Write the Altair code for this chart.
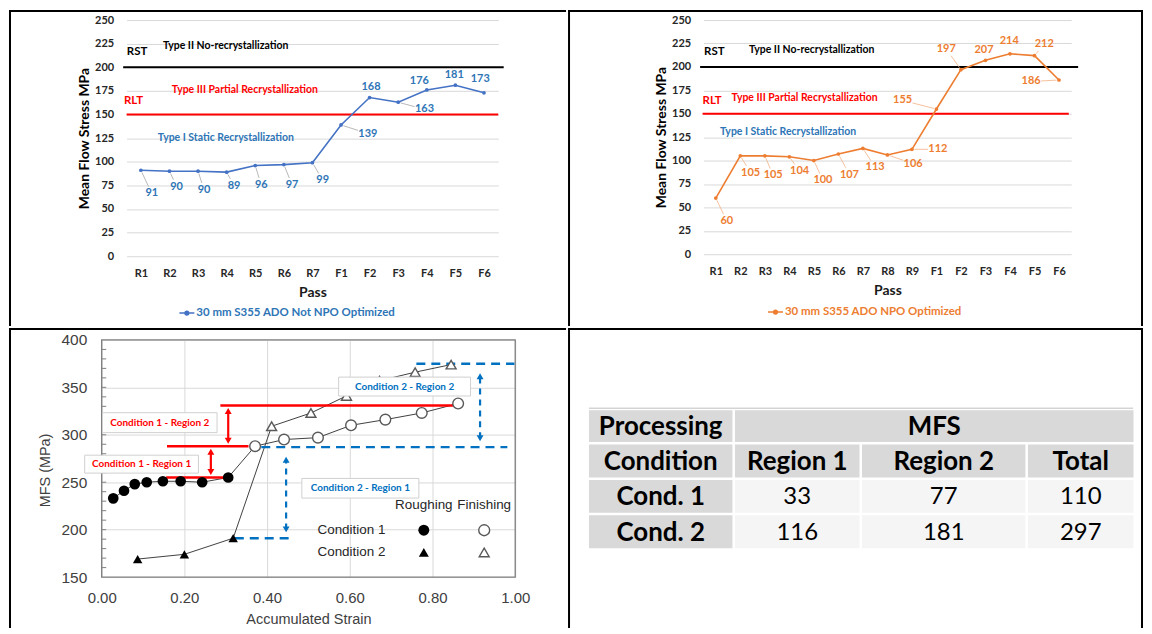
import math
import altair as alt
import pandas as pd

FONT = "Lato"
ARIAL = "Liberation Sans"

# ---------------- Panel 1: 30 mm S355 ADO, not NPO optimized ----------------
passes_1 = ["R1", "R2", "R3", "R4", "R5", "R6", "R7", "F1", "F2", "F3", "F4", "F5", "F6"]
mfs_1 = [91, 90, 90, 89, 96, 97, 99, 139, 168, 163, 176, 181, 173]
series_1 = "30 mm S355 ADO Not NPO Optimized"
label_pos_1 = [0.38, 1.25, 2.21, 3.26, 4.21, 5.29, 6.36, 7.94, 8.05, 9.92, 9.74, 10.96, 11.87]
label_mpa_1 = [66.6, 73.7, 70.2, 74.7, 75.5, 75.5, 80.3, 129.8, 178.9, 155.5, 186.0, 191.9, 187.7]

# ---------------- Panel 2: 30 mm S355 ADO, NPO optimized ----------------
passes_2 = ["R1", "R2", "R3", "R4", "R5", "R6", "R7", "R8", "R9", "F1", "F2", "F3", "F4", "F5", "F6"]
mfs_2 = [60, 105, 105, 104, 100, 107, 113, 106, 112, 155, 197, 207, 214, 212, 186]
series_2 = "30 mm S355 ADO NPO Optimized"
label_pos_2 = [0.45, 1.42, 2.34, 3.42, 4.37, 5.45, 6.50, 8.05, 9.06, 7.62, 9.40, 10.94, 11.97, 13.40, 12.86]
label_mpa_2 = [35.4, 87.0, 84.1, 88.6, 78.7, 85.1, 92.9, 96.8, 112.0, 164.2, 219.2, 217.7, 228.0, 224.5, 184.4]

# recrystallisation limits (MPa)
rst_mpa = 200
rlt_mpa = 150
zone_texts = ["RST", "Type II No-recrystallization", "RLT",
              "Type III Partial Recrystallization", "Type I Static Recrystallization"]
zone_colors = ["#000000", "#000000", "#ff0000", "#ff0000", "#2e75b6"]
zone_sizes = [11.5, 10.5, 11.5, 10.5, 10.5]
zone_pos_1 = [-0.49, 0.77, -0.59, 1.08, 0.59]
zone_mpa_1 = [216.5, 222.8, 164.2, 175.5, 125.3]
zone_pos_2 = [-0.48, 1.35, -0.54, 0.64, 0.17]
zone_mpa_2 = [215.5, 217.7, 163.1, 166.6, 130.4]

# ---------------- Panel 3: MFS vs accumulated strain ----------------
c1_rough_strain = [0.028, 0.054, 0.080, 0.109, 0.148, 0.191, 0.243, 0.306]
c1_rough_mfs = [233, 241, 248, 250, 251, 251, 250, 255]
c1_fin_strain = [0.371, 0.441, 0.523, 0.603, 0.686, 0.774, 0.862]
c1_fin_mfs = [288, 295, 297, 310, 316, 323, 333]
c2_rough_strain = [0.087, 0.200, 0.318]
c2_rough_mfs = [169, 174, 191]
c2_fin_strain = [0.411, 0.506, 0.592, 0.672, 0.758, 0.845]
c2_fin_mfs = [309, 323, 341, 357, 366, 374]

c1_level_x0 = [0.156, 0.158, 0.287]
c1_level_x1 = [0.317, 0.355, 0.850]
c1_level_y = [255, 288, 331]
c1_arrow_x = [0.264, 0.306]
c1_arrow_lo = [255, 288]
c1_arrow_hi = [288, 331]
c2_level_x0 = [0.322, 0.386, 0.761]
c2_level_x1 = [0.458, 0.981, 0.998]
c2_level_y = [191, 287, 375]
c2_arrow_x = [0.446, 0.915]
c2_arrow_lo = [191, 287]
c2_arrow_hi = [287, 375]

box_texts = ["Condition 1 - Region 2", "Condition 1 - Region 1",
             "Condition 2 - Region 2", "Condition 2 - Region 1"]
box_colors = ["#ff0000", "#ff0000", "#0070c0", "#0070c0"]
box_x0 = [0.002, -0.041, 0.573, 0.484]
box_x1 = [0.279, 0.234, 0.892, 0.767]
box_y0 = [302.3, 259.6, 340.9, 233.3]
box_y1 = [323.3, 278.5, 360.8, 254.0]

legend_cols = ["Roughing", "Finishing"]
legend_rows = ["Condition 1", "Condition 2"]
legend_col_x = [0.779, 0.925]
legend_head_y = 226
legend_row_x = 0.604
legend_row_y = [199.4, 176.0]

# ---------------- Panel 4: table ----------------
tbl_header_1 = ["Processing", "MFS"]
tbl_header_2 = ["Condition", "Region 1", "Region 2", "Total"]
conditions = ["Cond. 1", "Cond. 2"]
region_1 = [33, 116]
region_2 = [77, 181]
mfs_total = [110, 297]
col_widths = [144, 125, 164, 106]
row_heights = [32, 33, 33, 33]
cell_gap = 2.5


# ---------------- helpers ----------------
def frame(x0, x1, y0, y1):
    """Invisible rectangle that fixes the cell extent (relative to the plot origin)."""
    return alt.Chart(pd.DataFrame({"b": [0]})).mark_rect(opacity=0).encode(
        x=alt.value(x0), x2=alt.value(x1), y=alt.value(y0), y2=alt.value(y1))


def border(x0, x1, y0, y1, w=2):
    return alt.Chart(pd.DataFrame({"b": [0]})).mark_rule(color="black", strokeWidth=w).encode(
        x=alt.value(x0), x2=alt.value(x1), y=alt.value(y0), y2=alt.value(y1))


def leaders(vals, lx, ly, kx, ky):
    rows = []
    for i, (v, a, b) in enumerate(zip(vals, lx, ly)):
        dx = (a - i) * kx
        dy = (b - v) * ky
        d = math.hypot(dx, dy)
        if d < 15:
            continue
        ux, uy = dx / d, dy / d
        t = min(9 / abs(ux) if abs(ux) > 1e-6 else 1e9, 6 / abs(uy) if abs(uy) > 1e-6 else 1e9) + 1
        s, e = 2.5, d - t
        if e <= s + 2:
            continue
        rows.append({"sx": i + ux * s / kx, "sy": v + uy * s / ky,
                     "ex": i + ux * e / kx, "ey": v + uy * e / ky})
    return pd.DataFrame(rows)


def pass_panel(passes, mfs, series, lab_pos, lab_mpa, zone_pos, zone_mpa, rst_span, rlt_span,
               line_color, text_color, leader_color, W, H, legend_xy, cell, borders):
    n = len(passes)
    kx = W / n
    ky = H / 250
    xs = alt.Scale(domain=[-0.5, n - 0.5], nice=False, zero=False)
    ys = alt.Scale(domain=[0, 250], nice=False, zero=False)
    label_js = "[" + ",".join("'%s'" % p for p in passes) + "][datum.value]"
    x_axis = alt.Axis(values=list(range(n)), labelExpr=label_js, grid=False, ticks=False, domain=False,
                      labelFlush=False, labelPadding=11, labelFont=FONT,
                      labelFontWeight="bold", labelFontSize=11, labelColor="#262626",
                      title="Pass", titleFont=FONT, titleFontWeight="bold", titleFontSize=14,
                      titleColor="#1a1a1a", titleY=36.5, titleBaseline="middle")
    y_axis = alt.Axis(values=list(range(0, 251, 25)), grid=True, gridColor="#d9d9d9", gridWidth=1,
                      ticks=False, domain=False, labelFlush=False, labelPadding=13,
                      labelFont=FONT, labelFontWeight="bold", labelFontSize=11, labelColor="#262626",
                      title="Mean Flow Stress MPa", titleFont=FONT, titleFontWeight="bold",
                      titleFontSize=14, titleColor="#000000", titleX=-42,
                      titleY=H / 2, titleBaseline="middle")

    def PX(f):
        return alt.X(f, scale=xs, axis=x_axis)

    def PY(f):
        return alt.Y(f, scale=ys, axis=y_axis)

    thr = pd.DataFrame({"x0": [rst_span[0]], "x1": [rst_span[1]], "y": [rst_mpa]})
    thr2 = pd.DataFrame({"x0": [rlt_span[0]], "x1": [rlt_span[1]], "y": [rlt_mpa]})
    df = pd.DataFrame({"idx": list(range(n)), "mfs": mfs, "series": series,
                       "lx": lab_pos, "ly": lab_mpa, "txt": [str(v) for v in mfs]})
    lead = leaders(mfs, lab_pos, lab_mpa, kx, ky)

    layers = [frame(*cell)]
    layers += [
        alt.Chart(thr).mark_rule(color="#000000", strokeWidth=2).encode(
            x=PX("x0:Q"), x2="x1:Q", y=PY("y:Q")),
        alt.Chart(thr2).mark_rule(color="#ff0000", strokeWidth=2).encode(
            x=PX("x0:Q"), x2="x1:Q", y=PY("y:Q")),
        alt.Chart(lead).mark_rule(color=leader_color, strokeWidth=0.8).encode(
            x=PX("sx:Q"), x2="ex:Q", y=PY("sy:Q"), y2="ey:Q"),
        alt.Chart(df).mark_line(strokeWidth=1.6).encode(
            x=PX("idx:Q"), y=PY("mfs:Q"),
            color=alt.Color("series:N", scale=alt.Scale(domain=[series], range=[line_color]),
                            legend=alt.Legend(orient="none", legendX=legend_xy[0], legendY=legend_xy[1],
                                              title=None, labelFont=FONT, labelFontWeight="bold",
                                              labelFontSize=11.5, labelColor=text_color, labelLimit=400,
                                              labelOffset=1, padding=0,
                                              symbolType="M-1,0H1M-0.25,0A0.25,0.25,0,1,1,0.25,0A0.25,0.25,0,1,1,-0.25,0Z",
                                              symbolSize=225, symbolStrokeWidth=1.5,
                                              symbolFillColor=line_color))),
        alt.Chart(df).mark_point(filled=True, size=14, color=line_color, opacity=1).encode(
            x=PX("idx:Q"), y=PY("mfs:Q")),
        alt.Chart(df).mark_text(font=FONT, fontWeight="bold", fontSize=11, color=text_color).encode(
            x=PX("lx:Q"), y=PY("ly:Q"), text="txt:N"),
    ]
    for t, c, s, px, py in zip(zone_texts, zone_colors, zone_sizes, zone_pos, zone_mpa):
        layers.append(
            alt.Chart(pd.DataFrame({"x": [px], "y": [py], "t": [t]})).mark_text(
                font=FONT, fontWeight="bold", fontSize=s, color=c, align="left", baseline="middle").encode(
                x=PX("x:Q"), y=PY("y:Q"), text="t:N"))
    layers += borders
    return alt.layer(*layers).properties(width=W, height=H)


# plot origins (page px): A (126,18) 373x237, B (703,18) 369x235
panel_1 = pass_panel(passes_1, mfs_1, series_1, label_pos_1, label_mpa_1, zone_pos_1, zone_mpa_1,
                     (-0.62, 12.69), (-0.5, 12.5), "#4472c4", "#2e75b6", "#a6a6a6",
                     373, 237, (52, 285.5), (-118, 441, -10, 307),
                     [border(-118, 441, -9, -9), border(-117, -117, -10, 307)])
panel_2 = pass_panel(passes_2, mfs_2, series_2, label_pos_2, label_mpa_2, zone_pos_2, zone_mpa_2,
                     (-0.64, 14.78), (-0.54, 14.4), "#ed7d31", "#ed7d31", "#f4b183",
                     369, 235, (63.7, 284.5), (-136, 441, -10, 307),
                     [border(-136, 441, -9, -9), border(-135, -135, -10, 307), border(440, 440, -10, 307)])

# ---------------- Panel 3 build: origin (126,337), plot x from -25 ----------------
C_W, C_H = 390, 238
cx = alt.Scale(domain=[0, 1], range=[-25, C_W], nice=False, zero=False)
cy = alt.Scale(domain=[150, 400], nice=False, zero=False)
cx_axis = alt.Axis(values=[0, 0.2, 0.4, 0.6, 0.8, 1.0], format=".2f", grid=True, gridColor="#d9d9d9",
                   ticks=False, domain=False, labelFlush=False, labelPadding=14,
                   labelFont=ARIAL, labelFontSize=15, labelColor="#404040",
                   title="Accumulated Strain", titleFont=ARIAL, titleFontSize=14.5, titleFontWeight="normal",
                   titleColor="#404040", titleY=43, titleBaseline="middle")
cy_axis = alt.Axis(values=[150, 200, 250, 300, 350, 400], grid=True, gridColor="#d9d9d9",
                   ticks=False, domain=False, labelFlush=False, offset=25, labelPadding=15,
                   labelFont=ARIAL, labelFontSize=15.5, labelColor="#404040",
                   title="MFS (MPa)", titleFont=ARIAL, titleFontSize=14.5, titleFontWeight="normal",
                   titleColor="#404040", titleX=-56, titleY=130.5, titleBaseline="middle")


def X(f):
    return alt.X(f, scale=cx, axis=cx_axis)


def Y(f):
    return alt.Y(f, scale=cy, axis=cy_axis)


box = pd.DataFrame({"x0": [0], "x1": [1], "y0": [150], "y1": [400]})
minor = pd.DataFrame({"y": [v for v in range(160, 400, 10)], "x0": 0.0, "x1": 0.011})
c1_line = pd.DataFrame({"s": c1_rough_strain + c1_fin_strain, "m": c1_rough_mfs + c1_fin_mfs})
c2_line = pd.DataFrame({"s": c2_rough_strain + c2_fin_strain, "m": c2_rough_mfs + c2_fin_mfs})
c1r = pd.DataFrame({"s": c1_rough_strain, "m": c1_rough_mfs})
c1f = pd.DataFrame({"s": c1_fin_strain, "m": c1_fin_mfs})
c2r = pd.DataFrame({"s": c2_rough_strain, "m": c2_rough_mfs})
c2f = pd.DataFrame({"s": c2_fin_strain, "m": c2_fin_mfs})

HEAD = 3.8  # arrow-head half height in MPa


def arrow_layers(xs_, lo_, hi_, color, dashed, gap_lo, gap_hi):
    shaft = pd.DataFrame({"x": xs_, "y0": [l + gap_lo + HEAD for l in lo_],
                          "y1": [h - gap_hi - HEAD for h in hi_]})
    up = pd.DataFrame({"x": xs_, "y": [h - gap_hi - HEAD for h in hi_]})
    down = pd.DataFrame({"x": xs_, "y": [l + gap_lo + HEAD for l in lo_]})
    kw = dict(color=color, strokeWidth=2.2)
    if dashed:
        kw["strokeDash"] = [6, 5]
    return [
        alt.Chart(shaft).mark_rule(**kw).encode(x=X("x:Q"), y=Y("y0:Q"), y2="y1:Q"),
        alt.Chart(up).mark_point(shape="triangle-up", filled=True, size=48, color=color, opacity=1).encode(
            x=X("x:Q"), y=Y("y:Q")),
        alt.Chart(down).mark_point(shape="triangle-down", filled=True, size=48, color=color, opacity=1).encode(
            x=X("x:Q"), y=Y("y:Q")),
    ]


c_layers = [
    frame(-118, 441, -12, 289),
    alt.Chart(box).mark_rect(fillOpacity=0, stroke="#7f7f7f", strokeWidth=1.3).encode(
        x=X("x0:Q"), x2="x1:Q", y=Y("y0:Q"), y2="y1:Q"),
    alt.Chart(minor).mark_rule(color="#7f7f7f", strokeWidth=1).encode(x=X("x0:Q"), x2="x1:Q", y=Y("y:Q")),
    alt.Chart(c1_line).mark_line(color="#404040", strokeWidth=1).encode(x=X("s:Q"), y=Y("m:Q")),
    alt.Chart(c2_line).mark_line(color="#404040", strokeWidth=1).encode(x=X("s:Q"), y=Y("m:Q")),
    alt.Chart(pd.DataFrame({"x0": c1_level_x0, "x1": c1_level_x1, "y": c1_level_y})).mark_rule(
        color="#ff0000", strokeWidth=2.5).encode(x=X("x0:Q"), x2="x1:Q", y=Y("y:Q")),
    alt.Chart(pd.DataFrame({"x0": c2_level_x0, "x1": c2_level_x1, "y": c2_level_y})).mark_rule(
        color="#0070c0", strokeWidth=2.5, strokeDash=[9, 6]).encode(x=X("x0:Q"), x2="x1:Q", y=Y("y:Q")),
]
c_layers += arrow_layers(c1_arrow_x, c1_arrow_lo, c1_arrow_hi, "#ff0000", False, 2.0, 2.0)
c_layers += arrow_layers(c2_arrow_x, c2_arrow_lo, c2_arrow_hi, "#0070c0", True, 5.5, 9.5)
c_layers += [
    alt.Chart(c1r).mark_point(shape="circle", filled=True, size=115, color="#000000", opacity=1).encode(
        x=X("s:Q"), y=Y("m:Q")),
    alt.Chart(c1f).mark_point(shape="circle", filled=True, size=115, fill="#ffffff", stroke="#595959",
                              strokeWidth=1.4, opacity=1).encode(x=X("s:Q"), y=Y("m:Q")),
    alt.Chart(c2r).mark_point(shape="triangle-up", filled=True, size=90, color="#000000", opacity=1).encode(
        x=X("s:Q"), y=Y("m:Q")),
    alt.Chart(c2f).mark_point(shape="triangle-up", filled=True, size=100, fill="#ffffff", stroke="#595959",
                              strokeWidth=1.4, opacity=1).encode(x=X("s:Q"), y=Y("m:Q")),
]
boxes = pd.DataFrame({"t": box_texts, "c": box_colors, "x0": box_x0, "x1": box_x1, "y0": box_y0, "y1": box_y1})
boxes["xm"] = (boxes["x0"] + boxes["x1"]) / 2
boxes["ym"] = (boxes["y0"] + boxes["y1"]) / 2
c_layers += [
    alt.Chart(boxes).mark_rect(fill="#ffffff", stroke="#d0d0d0", strokeWidth=1).encode(
        x=X("x0:Q"), x2="x1:Q", y=Y("y0:Q"), y2="y1:Q"),
    alt.Chart(boxes).mark_text(font=FONT, fontWeight="bold", fontSize=10, baseline="middle").encode(
        x=X("xm:Q"), y=Y("ym:Q"), text="t:N", color=alt.Color("c:N", scale=None)),
]
leg_head = pd.DataFrame({"t": legend_cols, "x": legend_col_x, "y": [legend_head_y] * 2})
leg_rows = pd.DataFrame({"t": legend_rows, "x": [legend_row_x] * 2, "y": legend_row_y})
c_layers += [
    alt.Chart(leg_head).mark_text(font=ARIAL, fontSize=13.5, color="#262626", baseline="middle").encode(
        x=X("x:Q"), y=Y("y:Q"), text="t:N"),
    alt.Chart(leg_rows).mark_text(font=ARIAL, fontSize=13.5, color="#262626", baseline="middle").encode(
        x=X("x:Q"), y=Y("y:Q"), text="t:N"),
    alt.Chart(pd.DataFrame({"x": [legend_col_x[0]], "y": [legend_row_y[0]]})).mark_point(
        shape="circle", filled=True, size=120, color="#000000", opacity=1).encode(x=X("x:Q"), y=Y("y:Q")),
    alt.Chart(pd.DataFrame({"x": [legend_col_x[1]], "y": [legend_row_y[0]]})).mark_point(
        shape="circle", filled=True, size=120, fill="#ffffff", stroke="#595959", strokeWidth=1.4,
        opacity=1).encode(x=X("x:Q"), y=Y("y:Q")),
    alt.Chart(pd.DataFrame({"x": [legend_col_x[0]], "y": [legend_row_y[1]]})).mark_point(
        shape="triangle-up", filled=True, size=100, color="#000000", opacity=1).encode(x=X("x:Q"), y=Y("y:Q")),
    alt.Chart(pd.DataFrame({"x": [legend_col_x[1]], "y": [legend_row_y[1]]})).mark_point(
        shape="triangle-up", filled=True, size=100, fill="#ffffff", stroke="#595959", strokeWidth=1.4,
        opacity=1).encode(x=X("x:Q"), y=Y("y:Q")),
]
c_layers += [border(-118, 441, -11, -11), border(-117, -117, -12, 289)]
panel_3 = alt.layer(*c_layers).properties(width=C_W, height=C_H)

# ---------------- Panel 4 build (table): origin (588,337) ----------------
D_W, D_H = 546, 210
tx = alt.Scale(domain=[0, 546], nice=False, zero=False)
ty = alt.Scale(domain=[0, 142], range=[68.5, 210.5], nice=False, zero=False)
col_x0 = []
acc = 0.0
for w in col_widths:
    col_x0.append(acc)
    acc += w + cell_gap
col_x1 = [x + w for x, w in zip(col_x0, col_widths)]
row_y0 = []
acc = 2.0
for h in row_heights:
    row_y0.append(acc)
    acc += h + cell_gap
row_y1 = [y + h for y, h in zip(row_y0, row_heights)]

HEAD_FILL, BODY_FILL = "#d9d9d9", "#f5f5f5"
cells = []
cells.append(dict(x0=col_x0[0], x1=col_x1[0], r=0, fill=HEAD_FILL, t=tbl_header_1[0], b=True))
cells.append(dict(x0=col_x0[1], x1=col_x1[3], r=0, fill=HEAD_FILL, t=tbl_header_1[1], b=True))
for c, t in enumerate(tbl_header_2):
    cells.append(dict(x0=col_x0[c], x1=col_x1[c], r=1, fill=HEAD_FILL, t=t, b=True))
for k, cond in enumerate(conditions):
    r = 2 + k
    cells.append(dict(x0=col_x0[0], x1=col_x1[0], r=r, fill=HEAD_FILL, t=cond, b=True))
    for c, v in zip([1, 2, 3], [region_1[k], region_2[k], mfs_total[k]]):
        cells.append(dict(x0=col_x0[c], x1=col_x1[c], r=r, fill=BODY_FILL, t=str(v), b=False))
tbl = pd.DataFrame(cells)
tbl["y0"] = [row_y0[r] for r in tbl["r"]]
tbl["y1"] = [row_y1[r] for r in tbl["r"]]
tbl["xm"] = (tbl["x0"] + tbl["x1"]) / 2
tbl["ym"] = (tbl["y0"] + tbl["y1"]) / 2

d_layers = [
    frame(-21, 556, -12, 289),
    alt.Chart(pd.DataFrame({"x0": [0], "x1": [546], "y": [0]})).mark_rule(color="#bfbfbf", strokeWidth=1).encode(
        x=alt.X("x0:Q", scale=tx, axis=None), x2="x1:Q", y=alt.Y("y:Q", scale=ty, axis=None)),
    alt.Chart(tbl).mark_rect().encode(
        x=alt.X("x0:Q", scale=tx, axis=None), x2="x1:Q",
        y=alt.Y("y0:Q", scale=ty, axis=None), y2="y1:Q",
        color=alt.Color("fill:N", scale=None)),
    alt.Chart(tbl[tbl["b"]]).mark_text(font=FONT, fontWeight="bold", fontSize=26, color="#000000",
                                       baseline="middle", dy=1).encode(
        x=alt.X("xm:Q", scale=tx, axis=None), y=alt.Y("ym:Q", scale=ty, axis=None), text="t:N"),
    alt.Chart(tbl[~tbl["b"]]).mark_text(font=FONT, fontSize=24, color="#000000",
                                        baseline="middle", dy=1).encode(
        x=alt.X("xm:Q", scale=tx, axis=None), y=alt.Y("ym:Q", scale=ty, axis=None), text="t:N"),
    border(-21, 556, -11, -11), border(-20, -20, -12, 289), border(555, 555, -12, 289),
]
panel_4 = alt.layer(*d_layers).properties(width=D_W, height=D_H)

top = alt.hconcat(panel_1, panel_2, spacing=0).resolve_scale(color="independent").resolve_legend(
    color="independent")
bottom = alt.hconcat(panel_3, panel_4, spacing=0).resolve_scale(color="independent")
chart = (alt.vconcat(top, bottom, spacing=0)
         .resolve_scale(color="independent").resolve_legend(color="independent")
         .properties(padding=0, background="white")
         .configure_view(strokeWidth=0))

chart.save("out.html", embed_options={"renderer": "svg", "actions": False})
